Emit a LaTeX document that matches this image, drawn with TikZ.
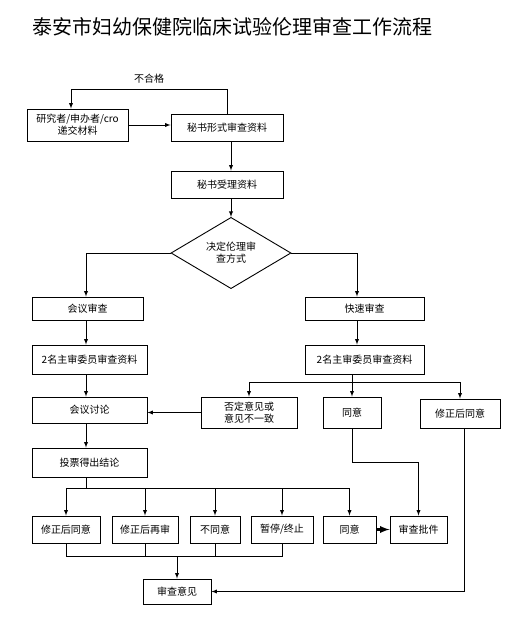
\documentclass[tikz,border=0pt]{standalone}
\usepackage{fontspec}
\newfontfamily\cjk{Noto Sans CJK SC}
\usetikzlibrary{shapes.geometric}

\begin{document}
\begin{tikzpicture}[x=1pt,y=-1pt,>=latex,line width=0.9pt,
  box/.style={rectangle,draw,inner sep=1pt,align=center,font=\cjk\fontsize{10}{12}\selectfont},
  choice/.style={diamond,draw,inner sep=0pt,align=center,minimum width=120pt,minimum height=50pt,font=\cjk\fontsize{10}{12}\selectfont},
  lbl/.style={font=\cjk\fontsize{10}{12}\selectfont}]
  \useasboundingbox (0,0) rectangle (511,624);
  \node[anchor=west,inner sep=0pt,font=\cjk\fontsize{20}{24}\selectfont] (title) at (32,27) {泰安市妇幼保健院临床试验伦理审查工作流程};
  % submission and secretary
  \node[box,minimum width=101pt,minimum height=32pt] (sub) at (77.5,125) {研究者/申办者/cro\\递交材料};
  \node[box,minimum width=112pt,minimum height=27pt] (form) at (227,127.5) {秘书形式审查资料};
  \node[box,minimum width=112pt,minimum height=27pt] (accept) at (227,184.5) {秘书受理资料};
  \node[choice] (way) at (231,253) {决定伦理审\\查方式};
  % two ways
  \node[box,minimum width=111pt,minimum height=23pt] (meet) at (87.5,308.5) {会议审查};
  \node[box,minimum width=119pt,minimum height=23pt] (fast) at (364.5,308.5) {快速审查};
  \node[box,minimum width=115pt,minimum height=29pt] (meetrev) at (89.5,359.5) {2名主审委员审查资料};
  \node[box,minimum width=119pt,minimum height=29pt] (fastrev) at (364.5,359.5) {2名主审委员审查资料};
  \node[box,minimum width=96pt,minimum height=31pt] (neg) at (249,412.5) {否定意见或\\意见不一致};
  \node[box,minimum width=58pt,minimum height=31pt] (ok1) at (352,412.5) {同意};
  \node[box,minimum width=80pt,minimum height=29pt] (fix1) at (460,413.5) {修正后同意};
  \node[box,minimum width=115pt,minimum height=26pt] (talk) at (89.5,410) {会议讨论};
  \node[box,minimum width=115pt,minimum height=29pt] (vote) at (89.5,462.5) {投票得出结论};
  % results
  \node[box,minimum width=68pt,minimum height=27pt] (r1) at (66,529.5) {修正后同意};
  \node[box,minimum width=66pt,minimum height=27pt] (r2) at (145,529.5) {修正后再审};
  \node[box,minimum width=50pt,minimum height=27pt] (r3) at (215,529.5) {不同意};
  \node[box,minimum width=62pt,minimum height=27pt] (r4) at (282,529.5) {暂停/终止};
  \node[box,minimum width=53pt,minimum height=27pt] (r5) at (349.5,529.5) {同意};
  \node[box,minimum width=57pt,minimum height=27pt] (permit) at (418.5,529.5) {审查批件};
  \node[box,minimum width=68pt,minimum height=25pt] (opinion) at (177,591.5) {审查意见};
  \coordinate (lcol) at (86,300);
  \coordinate (rcol) at (357,300);

  \draw[->] (sub.east) -- (sub.east -| form.west);
  \draw[->] (form.north) -- ++(0,-24) -| node[lbl,pos=0.25,above=2pt] {不合格} ([xshift=-6.5pt]sub.north);
  \draw[->] (form.south -| way) -- (accept.north -| way);
  \draw[->] (accept.south -| way) -- (way.north);
  \draw[->] (way.west) -| (meet.north -| lcol);
  \draw[->] (way.east) -| (fast.north -| rcol);
  \draw[->] (meet.south -| lcol) -- (meetrev.north -| lcol);
  \draw[->] (meetrev.south -| lcol) -- (talk.north -| lcol);
  \draw[->] (talk.south -| lcol) -- (vote.north -| lcol);
  \draw[->] (fast.south -| rcol) -- (fastrev.north -| rcol);
  \draw (fastrev.south -| ok1) -- ++(0,8) coordinate (fsplit);
  \draw[->] (fsplit) -| (neg.north);
  \draw[->] (fsplit) -- (ok1.north);
  \draw[->] (fsplit) -| (fix1.north);
  \draw[->] (neg.west) -- (neg.west -| talk.east);
  % vote results
  \draw (vote.south -| lcol) -- ++(0,11) coordinate (vsplit);
  \foreach \n in {r1,r2,r3,r4,r5}
    \draw[->] (vsplit) -| (\n.north);
  \draw[->,line width=2.2pt] (r5.east) -- (permit.west);
  \draw[->] (ok1.south) -- ++(0,34) -| (permit.north);
  \draw[->] ([xshift=4pt]fix1.south) |- (opinion.east);
  \draw (r1.south) -- ++(0,13) coordinate (rjoin) -| (r4.south);
  \draw (r2.south) -- (r2.south |- rjoin);
  \draw (r3.south) -- (r3.south |- rjoin);
  \draw[->] (opinion.north |- rjoin) -- (opinion.north);
\end{tikzpicture}
\end{document}
